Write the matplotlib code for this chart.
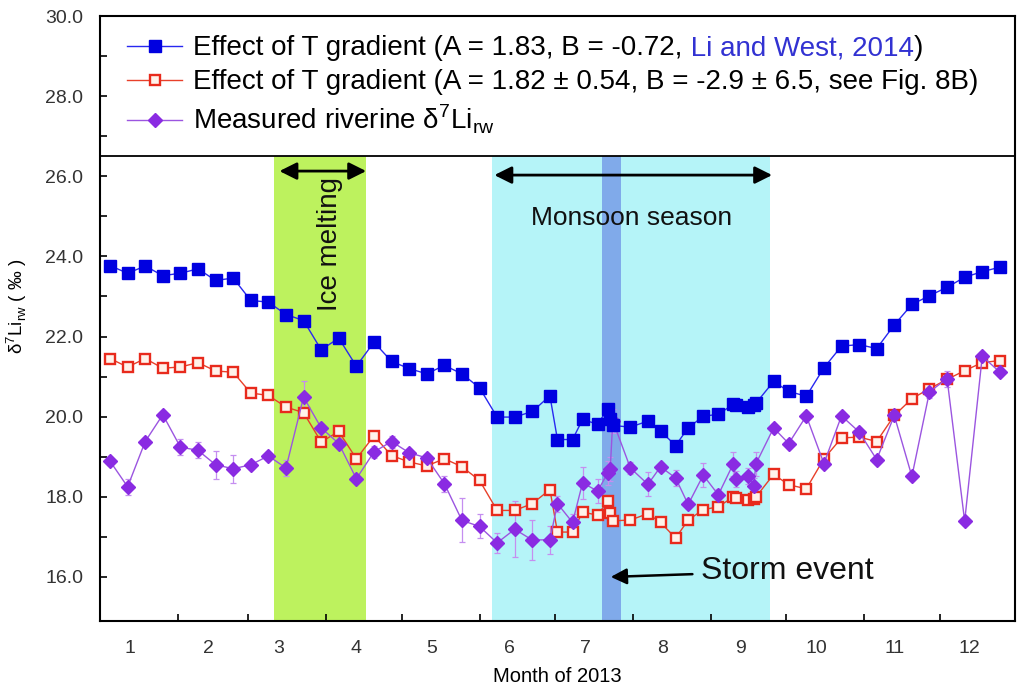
import matplotlib
matplotlib.use("Agg")
import matplotlib.pyplot as plt
import numpy as np

plt.rcParams['font.family'] = ['Liberation Sans', 'DejaVu Sans']

# ---------------- DATA (day of year 2013) ----------------
days = [4, 11, 18, 25, 32, 39, 46, 53, 60, 67, 74, 81, 88, 95, 102, 109, 116,
        123, 130, 137, 144, 151, 158, 165, 172, 179, 182, 188, 192, 198, 202,
        203, 204, 211, 218, 223, 229, 234, 240, 246, 252, 253, 258, 260, 261,
        268, 274, 281, 288, 295, 302, 309, 316, 323, 330, 337, 344, 351, 358]

t_grad_lw = [23.77, 23.58, 23.76, 23.52, 23.58, 23.69, 23.40, 23.46, 22.90, 22.86,
             22.55, 22.40, 21.67, 21.96, 21.26, 21.86, 21.38, 21.20, 21.07, 21.28,
             21.07, 20.72, 19.99, 19.99, 20.13, 20.52, 19.43, 19.43, 19.93, 19.81,
             20.20, 19.95, 19.78, 19.74, 19.89, 19.64, 19.28, 19.72, 20.01, 20.06,
             20.31, 20.28, 20.24, 20.30, 20.34, 20.88, 20.63, 20.51, 21.22, 21.76,
             21.80, 21.70, 22.29, 22.80, 23.02, 23.23, 23.48, 23.62, 23.73]

t_grad_fit = [21.45, 21.24, 21.45, 21.21, 21.24, 21.35, 21.14, 21.11, 20.59, 20.53,
              20.24, 20.10, 19.37, 19.63, 18.95, 19.52, 19.03, 18.87, 18.77, 18.95,
              18.75, 18.41, 17.66, 17.66, 17.83, 18.18, 17.12, 17.12, 17.62, 17.54,
              17.90, 17.60, 17.40, 17.42, 17.58, 17.36, 16.97, 17.42, 17.68, 17.75,
              18.00, 17.97, 17.91, 17.95, 18.00, 18.56, 18.30, 18.20, 18.95, 19.47,
              19.49, 19.38, 20.03, 20.45, 20.70, 20.93, 21.15, 21.35, 21.40]

measured = [18.89, 18.25, 19.38, 20.05, 19.24, 19.16, 18.80, 18.70, 18.80, 19.02,
            18.72, 20.49, 19.72, 19.33, 18.45, 19.12, 19.38, 19.10, 18.97, 18.33,
            17.41, 17.26, 16.85, 17.19, 16.92, 16.93, 17.83, 17.36, 18.35, 18.14,
            18.60, 18.70, 19.90, 18.72, 18.31, 18.75, 18.47, 17.81, 18.54, 18.05,
            18.83, 18.45, 18.53, 18.28, 18.83, 19.72, 19.33, 20.02, 18.83, 20.02,
            19.62, 18.93, 20.03, 18.51, 20.62, 20.95, 17.39, 21.51, 21.11]

measured_err = [0.10, 0.20, 0.10, 0.10, 0.20, 0.20, 0.35, 0.35, 0.10, 0.10,
                0.20, 0.40, 0.10, 0.10, 0.10, 0.15, 0.15, 0.10, 0.10, 0.20,
                0.55, 0.30, 0.25, 0.70, 0.50, 0.35, 0.20, 0.20, 0.40, 0.30,
                0.30, 0.30, 0.30, 0.15, 0.30, 0.10, 0.20, 0.10, 0.30, 0.15,
                0.30, 0.20, 0.20, 0.20, 0.30, 0.10, 0.10, 0.10, 0.10, 0.10,
                0.10, 0.10, 0.10, 0.10, 0.15, 0.20, 0.10, 0.10, 0.10]

month_starts = [0, 31, 59, 90, 120, 151, 181, 212, 243, 273, 304, 334]
month_labels = ['1', '2', '3', '4', '5', '6', '7', '8', '9', '10', '11', '12']

ice_melting = (69.3, 106.0)
monsoon = (155.8, 266.5)
storm = (199.6, 207.2)

y_min, y_max = 14.9, 30.0
legend_floor = 26.5

# ---------------- PLOTTING ----------------
fig = plt.figure(figsize=(10.18, 6.91), dpi=100)
ax = fig.add_axes([0.0982, 0.1013, 0.8988, 0.8755])

# seasonal bands (stop under the legend box)
ax.fill_betweenx([y_min, legend_floor], *ice_melting, color='#bdf25e', lw=0, zorder=0)
ax.fill_betweenx([y_min, legend_floor], *monsoon, color='#b5f4f8', lw=0, zorder=0)
ax.fill_betweenx([y_min, legend_floor], *storm, color='#80aaea', lw=0, zorder=0)
ax.axhline(legend_floor, color='black', lw=1.3, zorder=5)

ax.plot(days, t_grad_lw, color='#2828f0', lw=1.0, marker='s', ms=8.5,
        mfc='#0000e0', mec='#0000e0', zorder=4,
        label='Effect of T gradient (A = 1.83, B = -0.72,')
ax.plot(days, t_grad_fit, color='#e8402a', lw=1.0, marker='s', ms=7.5,
        mfc='#fff2ea', mec='#e82a1c', mew=1.7, zorder=3,
        label='Effect of T gradient (A = 1.82 \u00b1 0.54, B = -2.9 \u00b1 6.5, see Fig. 8B)')
ax.errorbar(days, measured, yerr=measured_err, fmt='none', ecolor='#c58ef0',
            elinewidth=0.9, capsize=2, capthick=0.9, zorder=2)
ax.plot(days, measured, color='#9b55e0', lw=1.0, marker='D', ms=7.5,
        mfc='#8a2be2', mec='#8a2be2', zorder=3,
        label=r'Measured riverine δ$^{\mathregular{7}}$Li$_{\mathregular{rw}}$')

# period arrows and labels
ax.annotate('', xy=(ice_melting[0] + 1, 26.13), xytext=(ice_melting[1] + 1, 26.13),
            arrowprops=dict(arrowstyle='<|-|>', color='black', lw=2, mutation_scale=26))
ax.annotate('', xy=(monsoon[0], 26.03), xytext=(monsoon[1] + 2, 26.03),
            arrowprops=dict(arrowstyle='<|-|>', color='black', lw=2, mutation_scale=26))
ax.text(91.5, 24.3, 'Ice melting', rotation=90, ha='center', va='center',
        fontsize=20, color='#111111')
ax.text(211.6, 24.95, 'Monsoon season', ha='center', va='center',
        fontsize=19, color='#111111')
ax.annotate('Storm event', xy=(203.2, 16.0), xytext=(239, 16.15),
            ha='left', va='center', fontsize=23, color='#111111',
            arrowprops=dict(arrowstyle='-|>', color='black', lw=1.8,
                            mutation_scale=24, shrinkA=4, shrinkB=0))

# axes
ax.set_xlim(0, 364)
ax.set_ylim(y_min, y_max)
ax.set_xticks(month_starts[1:])
ax.set_xticklabels([])
ax.set_xticks([m + 12 for m in month_starts], minor=True)
ax.set_xticklabels(month_labels, minor=True)
ax.tick_params(axis='x', which='major', direction='in', length=5, width=1.2)
ax.tick_params(axis='x', which='minor', length=0, pad=14, labelsize=14, labelcolor='#333333')
ax.set_yticks(np.arange(16, 31, 2))
ax.set_yticks(np.arange(17, 30, 2), minor=True)
ax.set_yticklabels([f'{v:.1f}' for v in np.arange(16, 31, 2)])
ax.tick_params(axis='y', which='both', direction='in', length=5, width=1.2,
               pad=12, labelsize=14, labelcolor='#333333')
for sp in ax.spines.values():
    sp.set_linewidth(1.5)

ax.set_xlabel('Month of 2013', fontsize=14.5, labelpad=7)
ax.set_ylabel(r'δ$^{\mathregular{7}}$Li$_{\mathregular{rw}}$ ( ‰ )', fontsize=13.5)
ax.yaxis.set_label_coords(-0.078, 0.52)

leg = ax.legend(loc='upper left', frameon=False, fontsize=20, handlelength=2.0,
                handletextpad=0.4, labelspacing=0.28, borderaxespad=0.3,
                bbox_to_anchor=(0.008, 1.0))
leg.set_zorder(6)
first = leg.get_texts()[0]
cite = ax.annotate(' Li and West, 2014', xy=(1, 0), xycoords=first, va='bottom',
                   ha='left', fontsize=20, color='#3232d2', zorder=10)
ax.annotate(')', xy=(1, 0), xycoords=cite, va='bottom', ha='left', fontsize=20,
            zorder=11)

plt.savefig('out.png', dpi=100)
